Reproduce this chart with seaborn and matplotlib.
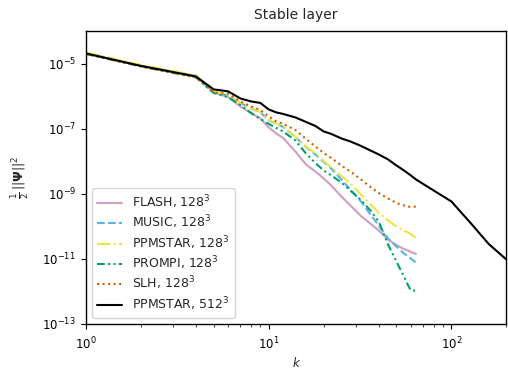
import matplotlib
matplotlib.use("Agg")
import matplotlib.pyplot as plt
import seaborn as sns
import numpy as np

# ---- data ----
k128 = [1, 2, 3, 4, 5, 6, 7, 8, 9, 10, 11, 12, 14, 16, 18, 20, 22, 25, 28, 32,
        36, 40, 45, 50, 55, 58, 60, 64]
k512 = [1, 2, 3, 4, 5, 6, 7, 8, 9, 10, 11, 12, 14, 16, 18, 20, 22, 25, 28, 32,
        36, 40, 45, 50, 55, 60, 64, 80, 100, 128, 160, 200]

flash = [2.07e-5, 8.55e-6, 5.6e-6, 4.06e-6, 1.31e-6, 9.38e-7, 4.85e-7, 3.06e-7,
         2.07e-7, 1.10e-7, 7.16e-8, 5.21e-8, 2.0e-8, 7.97e-9, 4.85e-9, 2.96e-9,
         1.80e-9, 8.26e-10, 4.37e-10, 2.07e-10, 1.22e-10, 7.43e-11, 3.93e-11,
         2.66e-11, 2.0e-11, 1.80e-11, 1.62e-11, 1.41e-11]
music = [2.07e-5, 8.55e-6, 5.6e-6, 4.06e-6, 1.31e-6, 1.06e-6, 6.22e-7, 4.22e-7,
         3.18e-7, 1.87e-7, 1.41e-7, 1.14e-7, 5.6e-8, 2.75e-8, 1.62e-8, 9.5e-9,
         6.0e-9, 2.75e-9, 1.36e-9, 5.79e-10, 2.31e-10, 1.06e-10, 4.22e-11,
         2.39e-11, 1.46e-11, 1.18e-11, 1.02e-11, 7.69e-12]
ppmstar128 = [2.23e-5, 9.18e-6, 6.0e-6, 4.37e-6, 1.41e-6, 1.06e-6, 6.22e-7, 4.37e-7,
              3.29e-7, 1.93e-7, 1.46e-7, 1.18e-7, 5.79e-8, 2.85e-8, 1.74e-8, 1.02e-8,
              6.44e-9, 3.53e-9, 2.07e-9, 9.5e-10, 4.85e-10, 2.66e-10, 1.51e-10,
              9.86e-11, 7.43e-11, 6.44e-11, 5.6e-11, 4.52e-11]
prompi = [2.0e-5, 8.26e-6, 5.21e-6, 3.79e-6, 1.26e-6, 9.38e-7, 5.4e-7, 3.06e-7,
          2.0e-7, 1.41e-7, 1.06e-7, 8.26e-8, 4.37e-8, 1.74e-8, 8.87e-9, 5.21e-9,
          3.66e-9, 2.23e-9, 1.26e-9, 6.4e-10, 3.06e-10, 1.41e-10, 2.75e-11,
          8.26e-12, 2.85e-12, 1.51e-12, 1.06e-12, 1.06e-12]
slh = [2.0e-5, 8.26e-6, 5.21e-6, 3.79e-6, 1.31e-6, 1.19e-6, 6.92e-7, 4.85e-7,
       3.79e-7, 2.39e-7, 1.68e-7, 1.41e-7, 9.18e-8, 4.85e-8, 2.85e-8, 1.80e-8,
       1.26e-8, 7.43e-9, 4.85e-9, 2.75e-9, 1.62e-9, 1.06e-9, 7.16e-10,
       5.21e-10, 4.37e-10, 4.06e-10, 3.93e-10, 4.06e-10]
ppmstar512 = [2.07e-5, 8.55e-6, 5.52e-6, 4.06e-6, 1.62e-6, 1.41e-6, 8.55e-7, 6.92e-7,
              6.22e-7, 3.93e-7, 3.18e-7, 2.85e-7, 2.23e-7, 1.62e-7, 1.22e-7, 8.26e-8,
              6.92e-8, 5.04e-8, 4.06e-8, 2.96e-8, 2.15e-8, 1.62e-8, 1.14e-8,
              7.43e-9, 5.21e-9, 3.66e-9, 2.75e-9, 1.26e-9, 5.79e-10, 1.22e-10,
              2.85e-11, 9.5e-12]

labels = ["FLASH, $128^3$", "MUSIC, $128^3$", "PPMSTAR, $128^3$",
          "PROMPI, $128^3$", "SLH, $128^3$", "PPMSTAR, $512^3$"]
colors = ["#D29EC0", "#56B4E9", "#F0E442", "#009E73", "#D55E00", "black"]
styles = ["-", (0, (3.7, 1.6)), (0, (6.4, 1.6, 1.0, 1.6)),
          (0, (3.7, 1.6, 1.0, 1.6, 1.0, 1.6)), (0, (1, 1.65)), "-"]

sns.set_style("ticks")
plt.rcParams["font.family"] = ["DejaVu Sans"]

fig = plt.figure(figsize=(5.08, 3.71), dpi=100)
ax = fig.add_subplot(111)
fig.subplots_adjust(left=0.169, right=0.997, top=0.916, bottom=0.127)

series = [(k128, flash), (k128, music), (k128, ppmstar128), (k128, prompi),
          (k128, slh), (k512, ppmstar512)]
for (kk, ee), lab, col, ls in zip(series, labels, colors, styles):
    sns.lineplot(x=kk, y=ee, ax=ax, color=col, label=lab, linewidth=1.5,
                 linestyle=ls)

ax.set_xscale("log")
ax.set_yscale("log")
ax.set_xlim(1, 200)
ax.set_ylim(1e-13, 1e-4)
ax.set_yticks([1e-13, 1e-11, 1e-9, 1e-7, 1e-5])
ax.yaxis.set_minor_locator(matplotlib.ticker.NullLocator())
ax.tick_params(labelsize=8.5, colors="black")
ax.tick_params(axis="x", pad=5)
for sp in ax.spines.values():
    sp.set_color("black")
    sp.set_linewidth(1.0)

ax.set_title("Stable layer", fontsize=10, pad=9)
ax.set_xlabel("$k$", fontsize=8.5, labelpad=3)
ax.set_ylabel(r"$\frac{1}{2}\,||\mathbf{\Psi}||^2$", fontsize=9, labelpad=8)

leg = ax.legend(loc="lower left", fontsize=9, labelspacing=0.22)
for h, ls in zip(leg.get_lines(), styles):
    h.set_linestyle(ls)

fig.savefig("out.png", dpi=100)
